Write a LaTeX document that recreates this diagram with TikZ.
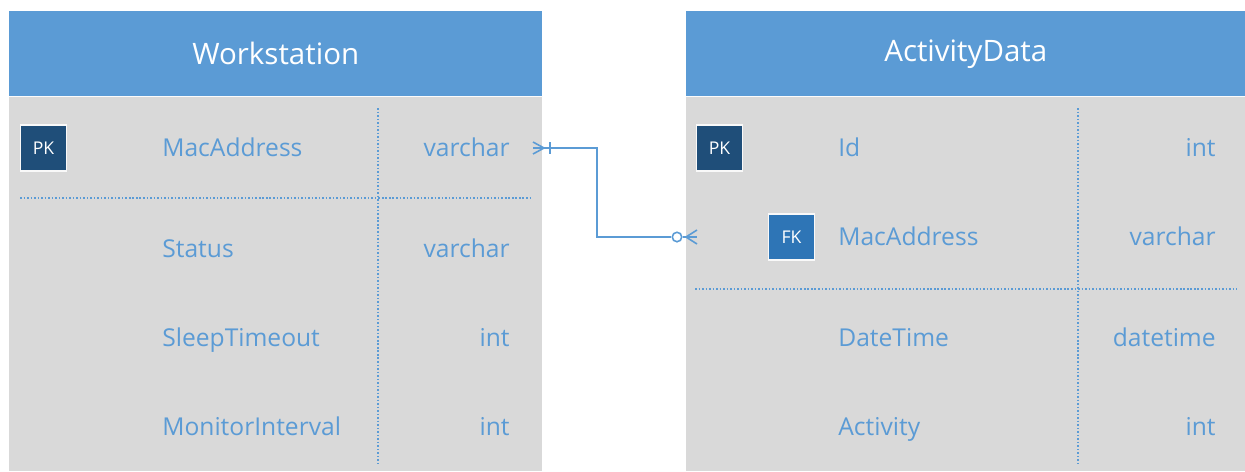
\documentclass[tikz,border=0pt]{standalone}
\usepackage{fontspec}
\setmainfont{Open Sans}
\definecolor{headblue}{HTML}{5B9BD5}
\definecolor{bodygray}{HTML}{D9D9D9}
\definecolor{fieldblue}{HTML}{5B9BD5}
\definecolor{pkblue}{HTML}{1F4E79}
\definecolor{fkblue}{HTML}{2E75B6}
\definecolor{linkblue}{HTML}{5B9BD5}
\tikzset{
  header/.style={fill=headblue, text=white, font=\fontsize{16.8}{20}\selectfont,
    anchor=north west, inner sep=0pt},
  body/.style={fill=bodygray, anchor=north west, inner sep=0pt},
  field/.style={text=fieldblue, font=\fontsize{14}{17}\selectfont, inner sep=0pt,
    text height=1.45ex, text depth=0.25ex, yshift=-0.05cm},
  fname/.style={field, anchor=west},
  ftype/.style={field, anchor=east},
  keybadge/.style={draw=white!85!bodygray, line width=0.6pt, text=white,
    font=\fontsize{10}{12}\selectfont, minimum width=0.92cm, minimum height=0.92cm,
    inner sep=0pt},
  sep/.style={draw=linkblue, line width=0.7pt, dash pattern=on 0.9pt off 1.1pt},
  link/.style={draw=linkblue, line width=0.9pt},
}
\begin{document}
\begin{tikzpicture}[x=0.02cm, y=-0.02cm]
\useasboundingbox (0,0) rectangle (1245,471);

% Workstation table
\node[body, minimum width=10.66cm, minimum height=7.5cm] (wsBody) at (9,96) {};
\node[header, minimum width=10.66cm, minimum height=1.7cm] (wsHead) at (9,11) {Workstation};
\draw[white!90!bodygray, line width=0.6pt] (wsHead.south west) -- (wsHead.south east);

\node[keybadge, fill=pkblue] (wsPK) at (43.5,148) {PK};
\node[fname] (wsMac) at (162,148) {MacAddress};
\node[ftype] (wsMacT) at (510,148) {varchar};
\node[fname] (wsStatus) at (162,249) {Status};
\node[ftype] (wsStatusT) at (510,249) {varchar};
\node[fname] (wsSleep) at (162,338) {SleepTimeout};
\node[ftype] (wsSleepT) at (510,338) {int};
\node[fname] (wsMon) at (162,427) {MonitorInterval};
\node[ftype] (wsMonT) at (510,427) {int};

\draw[sep] (20,198) -- (530,198);
\draw[sep] (378,108) -- (378,465);

% ActivityData table
\node[body, minimum width=11.18cm, minimum height=7.5cm] (adBody) at (686,96) {};
\node[header, minimum width=11.18cm, minimum height=1.7cm] (adHead) at (686,11) {ActivityData};
\draw[white!90!bodygray, line width=0.6pt] (adHead.south west) -- (adHead.south east);

\node[keybadge, fill=pkblue] (adPK) at (719.5,148) {PK};
\node[keybadge, fill=fkblue] (adFK) at (791.5,237) {FK};
\node[fname] (adId) at (838,148) {Id};
\node[ftype] (adIdT) at (1216,148) {int};
\node[fname] (adMac) at (838,237) {MacAddress};
\node[ftype] (adMacT) at (1216,237) {varchar};
\node[fname] (adDate) at (838,338) {DateTime};
\node[ftype] (adDateT) at (1216,338) {datetime};
\node[fname] (adAct) at (838,427) {Activity};
\node[ftype] (adActT) at (1216,427) {int};

\draw[sep] (695,289) -- (1237,289);
\draw[sep] (1078,108) -- (1078,465);

% relationship: Workstation.MacAddress -> ActivityData.MacAddress
\coordinate (wsEnd) at (533,148);
\coordinate (adEnd) at (697,237);
\coordinate (bendA) at (597,148);
\coordinate (bendB) at (597,237);
\node[circle, draw=linkblue, line width=0.9pt, fill=white, minimum size=0.19cm, inner sep=0pt] (zeroMark) at (677,237) {};

\draw[link] (wsEnd) -- (bendA) -- (bendB) -- (zeroMark.west);
\draw[link] (zeroMark.east) -- (adEnd);
% one-or-many end
\draw[link] (533,142) -- (544,148) -- (533,154);
\draw[link] (550,142) -- (550,154);
% zero-or-many end
\draw[link] (697,230) -- (686,237) -- (697,244);
\end{tikzpicture}
\end{document}
